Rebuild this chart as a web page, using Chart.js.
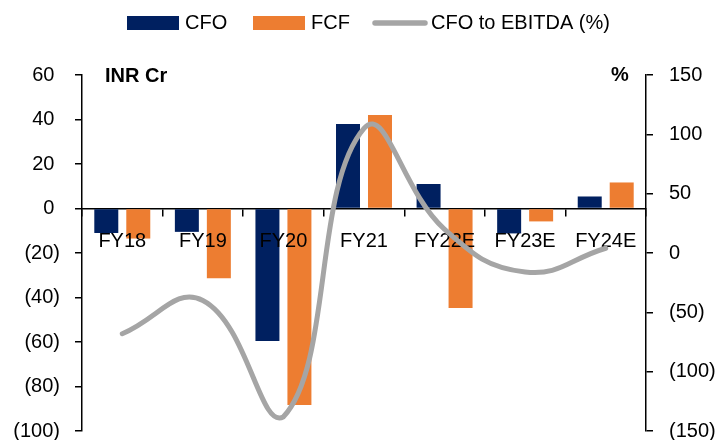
<!DOCTYPE html>
<html>
<head>
<meta charset="utf-8">
<script src="https://cdn.jsdelivr.net/npm/chart.js@4/dist/chart.umd.min.js"></script>
<style>
  html, body { margin: 0; padding: 0; background: #fff; }
  #wrap { width: 715px; height: 440px; }
</style>
</head>
<body>
<div id="wrap"><canvas id="c" width="715" height="440"></canvas></div>
<script>
// Fiscal years and cash-flow figures (INR Cr) with CFO/EBITDA ratio (%)
const categories = ['FY18', 'FY19', 'FY20', 'FY21', 'FY22E', 'FY23E', 'FY24E'];
const cfo = [-11, -10.5, -59.5, 38, 11, -11.2, 5.4];
const fcf = [-13.5, -31.3, -88.3, 42, -44.7, -5.8, 11.7];
const cfoToEbitda = [-68, -40, -138, 105, 20, -16, 4];

// Axis ranges
const leftAxis = { min: -100, max: 60, step: 20 };
const rightAxis = { min: -150, max: 150, step: 50 };

const FONT = "'Liberation Sans', Arial, sans-serif";
const NAVY = '#002060';
const ORANGE = '#ED7D31';
const GREY = '#A5A5A5';

const fmt = (v) => (v < 0 ? '(' + Math.abs(v) + ')' : v + ' ');
const fmtRight = (v) => (v < 0 ? '(' + Math.abs(v) + ')' : String(v));

// Category names sit on the zero line, above the bars but under the ratio line
const categoryLabels = {
  id: 'categoryLabels',
  beforeDatasetDraw(chart, args) {
    if (args.index !== 2) return;
    const xs = chart.scales.x, ys = chart.scales.y;
    const base = ys.getPixelForValue(0) + 38;
    const ctx = chart.ctx;
    ctx.save();
    ctx.font = '20px ' + FONT;
    ctx.fillStyle = '#000';
    ctx.textAlign = 'center';
    ctx.textBaseline = 'alphabetic';
    chart.data.labels.forEach((lab, i) => ctx.fillText(lab, xs.getPixelForValue(i), base));
    ctx.restore();
  }
};

// Legend and unit captions
const captions = {
  id: 'captions',
  afterDraw(chart) {
    const ctx = chart.ctx;
    const ds = chart.data.datasets;
    ctx.save();
    ctx.textBaseline = 'middle';
    ctx.textAlign = 'left';
    ctx.font = '20px ' + FONT;
    const y = 23;
    ctx.fillStyle = ds[0].backgroundColor;
    ctx.fillRect(127, 16, 52, 14);
    ctx.fillStyle = '#000';
    ctx.fillText(ds[0].label, 185, y);
    ctx.fillStyle = ds[1].backgroundColor;
    ctx.fillRect(253, 16, 52, 14);
    ctx.fillStyle = '#000';
    ctx.fillText(ds[1].label, 311, y);
    ctx.strokeStyle = ds[2].borderColor;
    ctx.lineWidth = 5.5;
    ctx.lineCap = 'round';
    ctx.beginPath();
    ctx.moveTo(375, y);
    ctx.lineTo(425, y);
    ctx.stroke();
    ctx.fillText(ds[2].label, 431, y);
    ctx.font = 'bold 20px ' + FONT;
    ctx.fillText('INR Cr', 105, 76);
    ctx.fillText('%', 611, 75);
    ctx.restore();
  }
};

new Chart(document.getElementById('c'), {
  type: 'bar',
  data: {
    labels: categories,
    datasets: [
      { label: 'CFO', data: cfo, backgroundColor: NAVY, yAxisID: 'y', order: 2,
        categoryPercentage: 0.794, barPercentage: 0.75 },
      { label: 'FCF', data: fcf, backgroundColor: ORANGE, yAxisID: 'y', order: 2,
        categoryPercentage: 0.794, barPercentage: 0.75 },
      { type: 'line', label: 'CFO to EBITDA (%)', data: cfoToEbitda, yAxisID: 'y1',
        borderColor: GREY, backgroundColor: GREY, borderWidth: 5, tension: 0.45,
        pointRadius: 0, borderCapStyle: 'round', order: 0, clip: false }
    ]
  },
  options: {
    responsive: false,
    devicePixelRatio: 1,
    animation: false,
    layout: { padding: { top: 75, bottom: 9, left: 0, right: 0 } },
    plugins: { legend: { display: false }, tooltip: { enabled: false } },
    scales: {
      x: {
        type: 'category',
        position: { y: 0 },
        grid: { offset: true, drawOnChartArea: false, drawTicks: true, tickLength: 7, color: '#000', lineWidth: 1.5 },
        border: { display: true, color: '#000', width: 1.5 },
        ticks: { display: false }
      },
      y: {
        position: 'left',
        min: leftAxis.min, max: leftAxis.max,
        grid: { drawOnChartArea: false, drawTicks: true, tickLength: 7, color: '#000', lineWidth: 1.5 },
        border: { display: true, color: '#000', width: 1.5 },
        ticks: { stepSize: leftAxis.step, color: '#000', font: { family: FONT, size: 20 }, padding: 15, callback: fmt },
        afterFit(s) { s.width = 82; s.paddingTop = 0; s.paddingBottom = 0; }
      },
      y1: {
        position: 'right',
        min: rightAxis.min, max: rightAxis.max,
        grid: { drawOnChartArea: false, drawTicks: true, tickLength: 7, color: '#000', lineWidth: 1.5 },
        border: { display: true, color: '#000', width: 1.5 },
        ticks: { stepSize: rightAxis.step, color: '#000', font: { family: FONT, size: 20 }, padding: 16, callback: fmtRight },
        afterFit(s) { s.width = 69; s.paddingTop = 0; s.paddingBottom = 0; }
      }
    }
  },
  plugins: [categoryLabels, captions]
});
</script>
</body>
</html>
